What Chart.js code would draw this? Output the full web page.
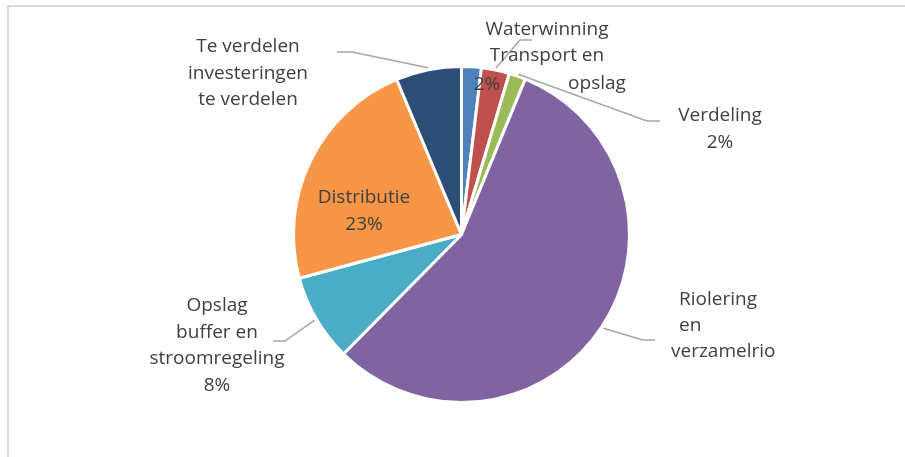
<!DOCTYPE html>
<html>
<head>
<meta charset="utf-8">
<script src="https://cdn.jsdelivr.net/npm/chart.js@4.4.1/dist/chart.umd.min.js"></script>
<style>
  html, body { margin:0; padding:0; background:#fff; }
  #wrap { position:relative; width:905px; height:457px; }
  #frame { position:absolute; left:7px; top:5px; right:-4px; bottom:-4px; border:2px solid #d9d9d9; }
  canvas { position:absolute; left:0; top:0; }
</style>
</head>
<body>
<div id="wrap">
  <div id="frame"></div>
  <canvas id="pie" width="905" height="457"></canvas>
</div>
<script>
// investment share per sub-process (%), clockwise from 12 o'clock
const categories = ['Waterwinning', 'Transport en opslag', 'Verdeling', 'Riolering en verzamelriolen',
                    'Opslag buffer en stroomregeling', 'Distributie', 'Te verdelen investeringen te verdelen'];
const shares  = [1.9, 2.7, 1.6, 56.2, 8.4, 22.9, 6.3];
const pctText = ['2%', '', '2%', '', '8%', '23%', ''];
const colors  = ['#4f81bd', '#c0504d', '#9bbb59', '#8064a2', '#4bacc6', '#f79646', '#2c4d75'];

// label text lines as shown in the picture
const labelLines = [
  ['Waterwinning'],
  ['Transport en', 'opslag'],
  ['Verdeling'],
  ['Riolering', 'en', 'verzamelrio'],
  ['Opslag', 'buffer en', 'stroomregeling'],
  ['Distributie'],
  ['Te verdelen', 'investeringen', 'te verdelen']
];

const FONT = '19px "Open Sans", sans-serif';
const INK = '#404040';
const LEAD = '#a6a6a6';

// where each label sits and how its leader line bends (layout only)
const layout = [
  { x: 547, y: 30, align: 'center', pct: { x: 487, y: 85 } },
  { lines: [{ x: 547, y: 56 }, { x: 597, y: 84 }], leader: [[532, 40], [520, 40]] },
  { x: 720, y: 116, align: 'center', leader: [[660, 121], [647, 121]] },
  { lines: [{ x: 679, y: 300, a: 'left' }, { x: 679, y: 326, a: 'left' }, { x: 671, y: 352, a: 'left' }], leader: [[655, 340], [643, 340]] },
  { x: 217, y: 306, align: 'center', leader: [[273, 341], [285, 341]] },
  { x: 364, y: 198, align: 'center' },
  { x: 248, y: 47, align: 'center', leader: [[337, 52], [352, 52]] }
];

const labelPlugin = {
  id: 'labels',
  afterDatasetsDraw(chart) {
    const ctx = chart.ctx;
    const arcs = chart.getDatasetMeta(0).data;
    ctx.save();
    ctx.font = FONT;
    ctx.fillStyle = INK;
    ctx.textBaseline = 'middle';
    arcs.forEach((arc, i) => {
      const L = layout[i];
      // leader line from slice rim
      if (L.leader) {
        const mid = (arc.startAngle + arc.endAngle) / 2;
        const ax = arc.x + Math.cos(mid) * (arc.outerRadius + 2);
        const ay = arc.y + Math.sin(mid) * (arc.outerRadius + 2);
        ctx.strokeStyle = LEAD;
        ctx.lineWidth = 1.5;
        ctx.beginPath();
        ctx.moveTo(L.leader[0][0], L.leader[0][1]);
        ctx.lineTo(L.leader[1][0], L.leader[1][1]);
        ctx.lineTo(ax, ay);
        ctx.stroke();
      }
      const lines = labelLines[i];
      if (L.lines) {
        lines.forEach((t, k) => {
          ctx.textAlign = L.lines[k].a || 'center';
          ctx.fillText(t, L.lines[k].x, L.lines[k].y);
        });
      } else {
        ctx.textAlign = L.align;
        lines.forEach((t, k) => ctx.fillText(t, L.x, L.y + k * 26.5));
        if (pctText[i]) {
          if (L.pct) { ctx.textAlign = 'center'; ctx.fillText(pctText[i], L.pct.x, L.pct.y); }
          else ctx.fillText(pctText[i], L.x, L.y + lines.length * 26.5);
        }
      }
    });
    ctx.restore();
  }
};

new Chart(document.getElementById('pie').getContext('2d'), {
  type: 'pie',
  data: { labels: categories, datasets: [{ data: shares, backgroundColor: colors, borderColor: '#fff', borderWidth: 3 }] },
  options: {
    responsive: false, animation: false,
    layout: { padding: { left: 292, right: 274, top: 65, bottom: 53 } },
    plugins: { legend: { display: false }, tooltip: { enabled: false } }
  },
  plugins: [labelPlugin]
});
</script>
</body>
</html>
